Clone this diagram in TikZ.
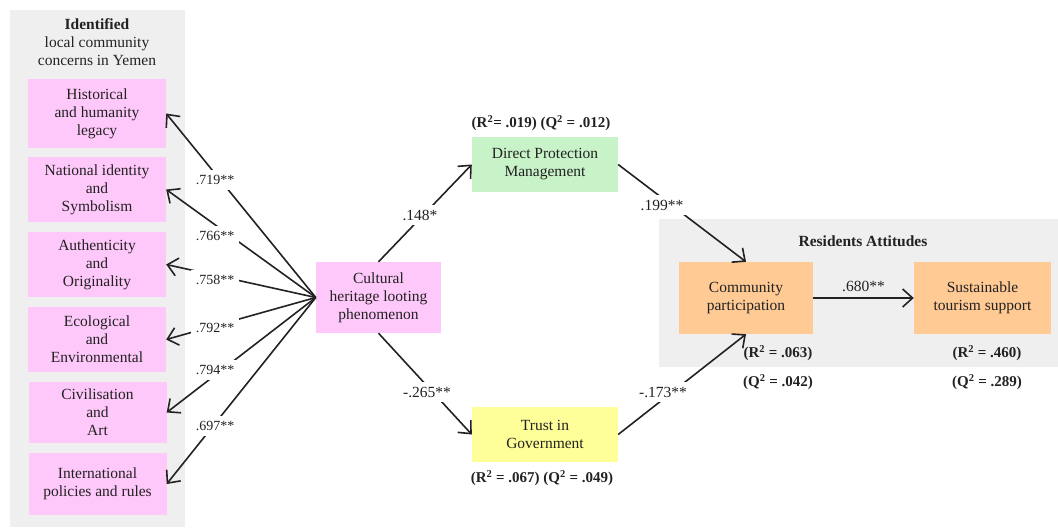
\documentclass[tikz,border=0pt]{standalone}
\usepackage{fontspec}
\setmainfont{Liberation Serif}
\usetikzlibrary{arrows.meta}
\definecolor{pinkbox}{HTML}{FFC8FA}
\definecolor{greenbox}{HTML}{C8F2C8}
\definecolor{yellowbox}{HTML}{FFFF99}
\definecolor{orangebox}{HTML}{FFCA94}
\definecolor{panelgray}{HTML}{EFEFEF}
\definecolor{ink}{HTML}{222222}
\begin{document}
\begin{tikzpicture}[x=1pt,y=-1pt,
  font=\fontsize{15.5}{18}\selectfont, text=ink,
  box/.style={inner sep=0pt, align=center, anchor=center},
  pinkb/.style={box, fill=pinkbox, minimum width=138pt},
  conn/.style={draw=ink, line width=1.6pt, -{Straight Barb[length=10pt,width=18pt,line width=1.6pt]}},
  coef/.style={fill=white, inner sep=5pt},
  lcoef/.style={coef, font=\fontsize{14}{17}\selectfont},
  stat/.style={font=\fontsize{15}{18}\selectfont\bfseries, inner sep=1pt},
  panel/.style={fill=panelgray, draw=none, inner sep=0pt}
]
\useasboundingbox (0,0) rectangle (1058,528);
% panels
\node (leftpanel) [panel, minimum width=175pt, minimum height=517pt] at (97.5,268.5) {};
\node (rightpanel) [panel, minimum width=399pt, minimum height=148pt] at (858.5,293) {};
\node (title) [align=center, inner sep=0pt] at (97,42) {\textbf{Identified}\\local community\\concerns in Yemen};
\node (rtitle) [inner sep=0pt] at (863,241) {\textbf{Residents Attitudes}};
% left boxes
\node (b1) [pinkb, minimum height=69pt] at (97,113.5) {Historical\\and humanity\\legacy};
\node (b2) [pinkb, minimum height=65pt] at (97,189.5) {National identity\\and\\Symbolism};
\node (b3) [pinkb, minimum height=65pt] at (97,264.5) {Authenticity\\and\\Originality};
\node (b4) [pinkb, minimum height=65pt] at (97,339.5) {Ecological\\and\\Environmental};
\node (b5) [pinkb, minimum height=61pt] at (97.5,412.5) {Civilisation\\and\\Art};
\node (b6) [pinkb, minimum height=62pt] at (97.5,484) {International\\policies and rules};
% central boxes
\node (cult) [box, fill=pinkbox, minimum width=125pt, minimum height=71pt] at (378.5,297.5) {Cultural\\heritage looting\\phenomenon};
\node (dpm) [box, fill=greenbox, minimum width=146pt, minimum height=55pt] at (545,164.5) {Direct Protection\\Management};
\node (trust) [box, fill=yellowbox, minimum width=146pt, minimum height=55pt] at (545,434.5) {Trust in\\Government};
\node (cp) [box, fill=orangebox, minimum width=134pt, minimum height=72pt] at (746,298) {Community\\participation};
\node (sts) [box, fill=orangebox, minimum width=137pt, minimum height=72pt] at (982.5,298) {Sustainable\\tourism support};
% stats
\node (sdpm) [stat] at (541,123) {(R\textsuperscript{2}= .019) (Q\textsuperscript{2} = .012)};
\node (strust) [stat] at (542,478) {(R\textsuperscript{2} = .067) (Q\textsuperscript{2} = .049)};
\node (scpr) [stat] at (778,353) {(R\textsuperscript{2} = .063)};
\node (scpq) [stat] at (778,382) {(Q\textsuperscript{2} = .042)};
\node (sstsr) [stat] at (987,353) {(R\textsuperscript{2} = .460)};
\node (sstsq) [stat] at (987,382) {(Q\textsuperscript{2} = .289)};
% connectors
\draw[conn] (cult.west) -- (b1.east);
\draw[conn] (cult.west) -- (b2.east);
\draw[conn] (cult.west) -- (b3.east);
\draw[conn] (cult.west) -- (b4.east);
\draw[conn] (cult.west) -- (b5.east);
\draw[conn] (cult.west) -- (b6.east);
\draw[conn] (cult.north) -- (dpm.west);
\draw[conn] (cult.south) -- (trust.west);
\draw[conn] (dpm.east) -- (cp.north);
\draw[conn] (trust.east) -- (cp.south);
\draw[conn] (cp.east) -- node[above=4pt, inner sep=1pt] (l680) {.680**} (sts.west);
% coefficient labels
\node (l1) [lcoef] at (215,180) {.719**};
\node (l2) [lcoef] at (215,236) {.766**};
\node (l3) [lcoef] at (215,280) {.758**};
\node (l4) [lcoef] at (215,328) {.792**};
\node (l5) [lcoef] at (215,370) {.794**};
\node (l6) [lcoef] at (215,426) {.697**};
\node (l148) [coef] at (420,215) {.148*};
\node (l265) [coef] at (427,392) {-.265**};
\node (l199) [coef] at (662,205) {.199**};
\node (l173) [coef] at (663,392) {-.173**};
\end{tikzpicture}
\end{document}
